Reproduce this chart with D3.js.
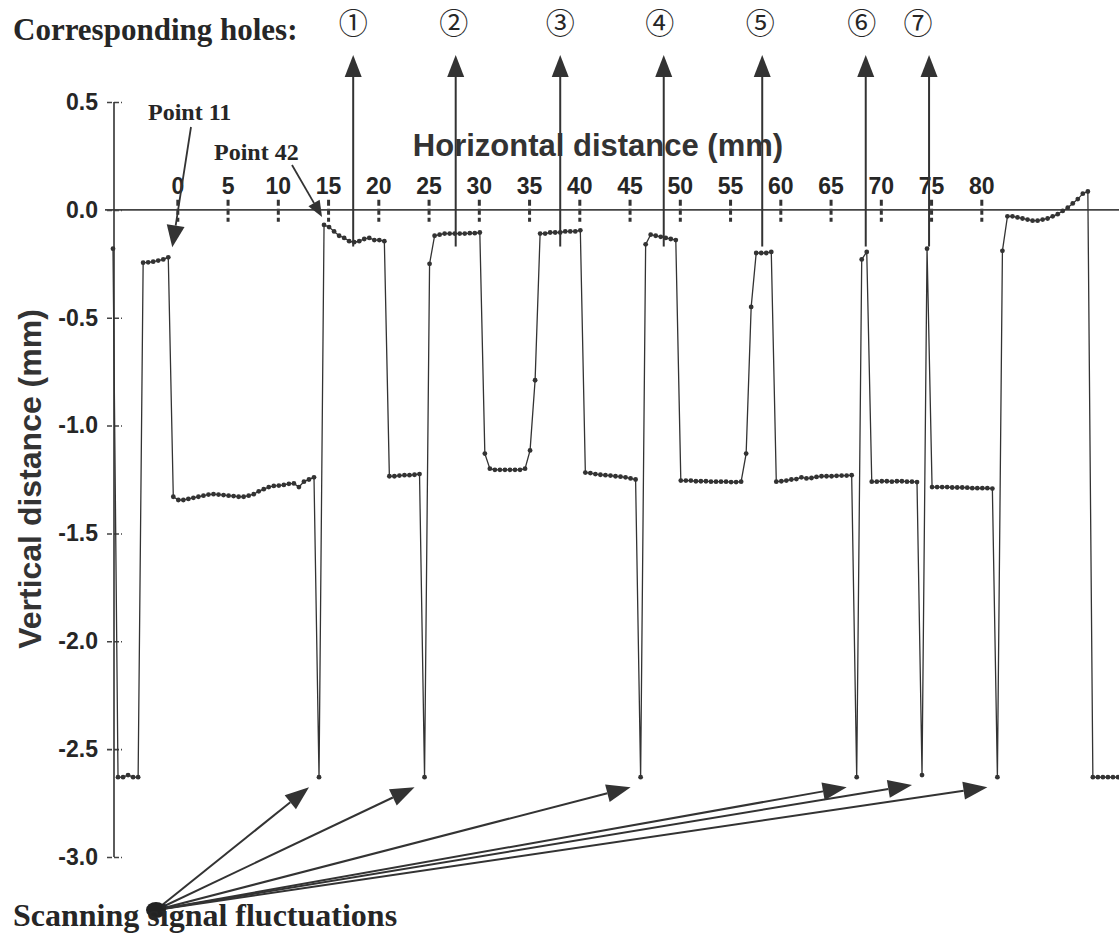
<!DOCTYPE html>
<html><head><meta charset="utf-8">
<script src="https://cdn.jsdelivr.net/npm/d3@7"></script>
<style>
html,body{margin:0;padding:0;background:#fff;}
svg{display:block;}
</style></head>
<body>
<svg id="chart" width="1119" height="934"></svg>
<script>
// ---------- data ----------
const xStart = -6.4;          // mm, first scan point
const xStep = 0.5;            // mm between scan points
// vertical distance (mm) of each scan point
const depth = [
  -0.18, -2.63, -2.63, -2.62, -2.63, -2.63, -0.245, -0.243, -0.24, -0.235, -0.23, -0.22,
  -1.33, -1.345, -1.345, -1.34, -1.335, -1.33, -1.325, -1.32, -1.318, -1.32, -1.322, -1.325,
  -1.327, -1.33, -1.33, -1.325, -1.318, -1.305, -1.295, -1.285, -1.28, -1.278, -1.275, -1.27,
  -1.268, -1.285, -1.26, -1.25, -1.24, -2.63,
  -0.07, -0.08, -0.10, -0.12, -0.13, -0.145, -0.15, -0.145, -0.135, -0.13, -0.14, -0.14, -0.145,
  -1.235, -1.235, -1.232, -1.23, -1.23, -1.228, -1.225, -2.63,
  -0.25, -0.12, -0.115, -0.11, -0.11, -0.11, -0.11, -0.11, -0.108, -0.108, -0.105,
  -1.13, -1.20, -1.205, -1.205, -1.205, -1.205, -1.205, -1.205, -1.20, -1.115, -0.79,
  -0.11, -0.11, -0.105, -0.105, -0.105, -0.10, -0.10, -0.10, -0.095,
  -1.218, -1.22, -1.225, -1.228, -1.23, -1.232, -1.235, -1.237, -1.24, -1.245, -1.25, -2.63,
  -0.16, -0.115, -0.12, -0.125, -0.13, -0.135, -0.14,
  -1.255, -1.255, -1.255, -1.258, -1.258, -1.258, -1.26, -1.26, -1.26, -1.26, -1.262, -1.262, -1.26,
  -1.13, -0.45, -0.20, -0.20, -0.20, -0.195,
  -1.26, -1.258, -1.255, -1.25, -1.248, -1.24, -1.245, -1.243, -1.238, -1.235, -1.235, -1.235,
  -1.233, -1.232, -1.232, -1.23, -2.63,
  -0.23, -0.195,
  -1.26, -1.26, -1.258, -1.258, -1.26, -1.258, -1.258, -1.26, -1.26, -1.262, -2.62,
  -0.18,
  -1.285, -1.285, -1.285, -1.285, -1.287, -1.287, -1.287, -1.288, -1.29, -1.29, -1.29, -1.29, -1.292,
  -2.63, -0.19, -0.03,
  -0.03, -0.035, -0.04, -0.045, -0.05, -0.05, -0.045, -0.04, -0.03, -0.02, -0.005, 0.01, 0.03, 0.05, 0.075, 0.085,
  -2.63, -2.63, -2.63, -2.63, -2.63, -2.63, -2.63
];
const xTicks = [0, 5, 10, 15, 20, 25, 30, 35, 40, 45, 50, 55, 60, 65, 70, 75, 80];
const yTicks = [0.5, 0.0, -0.5, -1.0, -1.5, -2.0, -2.5, -3.0];
const holeLabels = ["①", "②", "③", "④", "⑤", "⑥", "⑦"];
const holeX = [17.5, 27.7, 38.1, 48.4, 58.2, 68.5, 74.8];     // mm
const pointNotes = [{label: "Point 11", index: 11}, {label: "Point 42", index: 42}];
const fluctuationIdx = [41, 62, 105, 148, 161, 176];            // scan points at the false -2.63 readings

// ---------- layout ----------
const svg = d3.select("#chart");
const x = d3.scaleLinear().domain([-6.3, 93.7]).range([114, 1119]);
const y = d3.scaleLinear().domain([0.5, -3.0]).range([102, 857]);
const ink = "#262626";
const sans = "Liberation Sans, Arial, sans-serif";
const serif = "Liberation Serif, Times New Roman, serif";
const pts = depth.map((v, i) => ({x: xStart + i * xStep, v}));

const defs = svg.append("defs");
defs.append("clipPath").attr("id", "plot").append("rect")
  .attr("x", 108).attr("y", 0).attr("width", 1011).attr("height", 934);

// axes
const xAxis = svg.append("g").attr("transform", `translate(0,${y(0)})`)
  .call(d3.axisTop(x).tickValues(xTicks).tickSize(0).tickPadding(16).tickFormat(d3.format("d")));
xAxis.select(".domain").remove();
xAxis.append("line").attr("x1", 105).attr("x2", 1119).attr("stroke", "#444").attr("stroke-width", 1.8);
xAxis.selectAll(".tick").append("line").attr("y1", -10).attr("y2", 12)
  .attr("stroke", "#333").attr("stroke-width", 3).attr("stroke-dasharray", "6,3");
xAxis.selectAll(".tick text").attr("font-family", sans)
  .attr("font-weight", "bold").attr("font-size", 23).attr("fill", ink);

const yAxis = svg.append("g").attr("transform", `translate(${x(-6.3)},0)`)
  .call(d3.axisLeft(y).tickValues(yTicks).tickSize(0).tickPadding(16).tickFormat(d3.format(".1f")));
yAxis.select(".domain").remove();
yAxis.append("line").attr("y1", y(0.5)).attr("y2", y(-3.0)).attr("stroke", "#333").attr("stroke-width", 1.6);
yAxis.selectAll(".tick").append("line").attr("x1", -7).attr("x2", 8)
  .attr("stroke", "#444").attr("stroke-width", 1.6).attr("stroke-dasharray", "5,2");
yAxis.selectAll(".tick text").attr("font-family", sans)
  .attr("font-weight", "bold").attr("font-size", 23).attr("fill", ink).text(d => d3.format(".1f")(d).replace("−", "-"));

// axis titles
svg.append("text").attr("x", 598).attr("y", 156).attr("text-anchor", "middle")
  .attr("font-family", sans).attr("font-weight", "bold")
  .attr("font-size", 31).attr("fill", "#333").text("Horizontal distance (mm)");
svg.append("text").attr("transform", "translate(41,479) rotate(-90)").attr("text-anchor", "middle")
  .attr("font-family", sans).attr("font-weight", "bold")
  .attr("font-size", 32).attr("fill", "#333").text("Vertical distance (mm)");

// data profile
const plot = svg.append("g").attr("clip-path", "url(#plot)");
plot.append("path").datum(pts)
  .attr("d", d3.line().x(d => x(d.x)).y(d => y(d.v)))
  .attr("fill", "none").attr("stroke", "#333").attr("stroke-width", 1.3);
plot.selectAll("circle.pt").data(pts).join("circle").attr("class", "pt")
  .attr("cx", d => x(d.x)).attr("cy", d => y(d.v)).attr("r", 2.4).attr("fill", "#333");

// arrowhead helper
function arrow(g, x1, y1, x2, y2, len, half, w) {
  const a = Math.atan2(y2 - y1, x2 - x1);
  const bx = x2 - len * Math.cos(a), by = y2 - len * Math.sin(a);
  g.append("line").attr("x1", x1).attr("y1", y1).attr("x2", bx).attr("y2", by)
    .attr("stroke", "#333").attr("stroke-width", w);
  const px = -Math.sin(a) * half, py = Math.cos(a) * half;
  g.append("path").attr("d", `M${x2},${y2}L${bx + px},${by + py}L${bx - px},${by - py}Z`).attr("fill", "#333");
}
const ann = svg.append("g");

// corresponding holes
svg.append("text").attr("x", 13).attr("y", 40)
  .attr("font-family", serif).attr("font-weight", "bold")
  .attr("font-size", 31).attr("fill", ink).text("Corresponding holes:");
const labelShift = [0, -2, 0, -4, -2, -4, -11];
holeX.forEach((h, i) => {
  arrow(ann, x(h), y(-0.17), x(h), 55, 22, 8.5, 2);
  svg.append("text").attr("x", x(h) + labelShift[i]).attr("y", 34).attr("text-anchor", "middle")
    .attr("font-family", "Noto Sans CJK JP, DejaVu Sans, sans-serif").attr("font-size", 29)
    .attr("fill", ink).text(holeLabels[i]);
});

// point notes
const p11 = pts[pointNotes[0].index], p42 = pts[pointNotes[1].index];
svg.append("text").attr("x", 148).attr("y", 120)
  .attr("font-family", serif).attr("font-weight", "bold")
  .attr("font-size", 24).attr("fill", ink).text(pointNotes[0].label);
arrow(ann, 191, 127, x(p11.x) + 4, y(p11.v) - 10, 22, 9, 1.8);
svg.append("text").attr("x", 214).attr("y", 160)
  .attr("font-family", serif).attr("font-weight", "bold")
  .attr("font-size", 24).attr("fill", ink).text(pointNotes[1].label);
arrow(ann, 292, 165, x(p42.x) - 2, y(p42.v) - 8, 16, 6.5, 1.8);

// scanning signal fluctuations
const origin = [156, 910];
fluctuationIdx.forEach(i => {
  const p = pts[i];
  arrow(ann, origin[0], origin[1], x(p.x) - 10, y(p.v) + 10, 24, 9, 2);
});
ann.append("ellipse").attr("cx", origin[0]).attr("cy", origin[1]).attr("rx", 10).attr("ry", 8).attr("fill", "#222");
svg.append("text").attr("x", 13).attr("y", 926)
  .attr("font-family", serif).attr("font-weight", "bold")
  .attr("font-size", 32).attr("fill", ink).text("Scanning signal fluctuations");
</script>
</body></html>
